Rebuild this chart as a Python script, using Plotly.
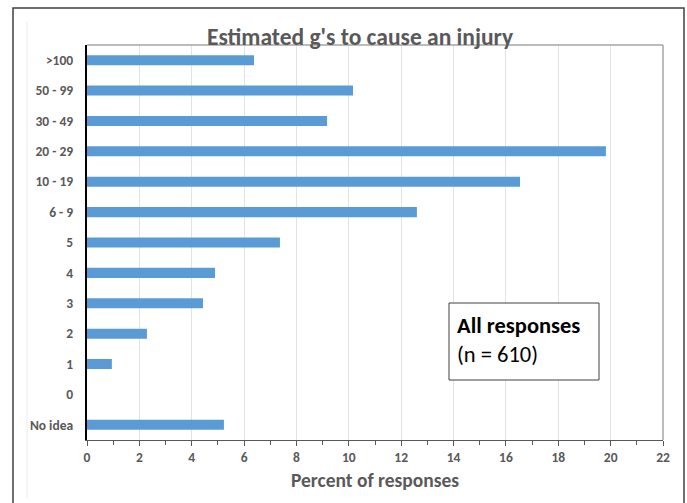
import plotly.graph_objects as go

categories = [">100", "50 - 99", "30 - 49", "20 - 29", "10 - 19", "6 - 9", "5", "4", "3", "2", "1", "0", "No idea"]
values = [6.38, 10.16, 9.17, 19.82, 16.54, 12.6, 7.37, 4.89, 4.43, 2.29, 0.95, 0.0, 5.23]
x_ticks = list(range(0, 23, 2))

FONT = "Carlito, Liberation Sans Narrow, Liberation Sans, sans-serif"
GREY = "#595959"

fig = go.Figure(go.Bar(
    x=values, y=categories, orientation="h",
    marker=dict(color="#5b9bd5", line=dict(width=0)),
    width=0.33,
))

W, H = 687, 503
L, R, T, B = 87, 24, 45, 63
pw, ph = W - L - R, H - T - B

def px(x):
    return (x - L) / pw

def py(y):
    return (H - B - y) / ph

fig.update_layout(
    width=W, height=H,
    margin=dict(l=L, r=R, t=T, b=B),
    paper_bgcolor="white", plot_bgcolor="white",
    showlegend=False,
    font=dict(family=FONT, color=GREY),
    xaxis=dict(
        range=[0, 22], tickvals=x_ticks, ticktext=[str(v) for v in x_ticks],
        showgrid=True, gridcolor="#e3e3e3", gridwidth=1,
        showline=True, linecolor="#595959", linewidth=1,
        ticks="outside", ticklen=5, tickcolor="#595959",
        minor=dict(dtick=1, ticks="outside", ticklen=4, tickcolor="#595959", showgrid=False),
        tickfont=dict(family=FONT, size=13.5, color=GREY, weight="bold"),
        title=dict(text="<b>Percent of responses</b>", font=dict(family=FONT, size=19.5, color=GREY), standoff=8),
        zeroline=False, fixedrange=True,
    ),
    yaxis=dict(
        autorange="reversed", type="category",
        showline=True, linecolor="black", linewidth=2,
        ticks="", showgrid=False,
        tickfont=dict(family=FONT, size=13.5, color=GREY, weight="bold"),
        ticksuffix="   ",
    ),
    shapes=[
        dict(type="line", xref="paper", yref="paper", x0=0, x1=1, y0=1, y1=1,
             line=dict(color="#a6a6a6", width=1.5)),
        dict(type="line", xref="paper", yref="paper", x0=1, x1=1, y0=0, y1=1,
             line=dict(color="#a6a6a6", width=1.5)),
        dict(type="rect", xref="paper", yref="paper", x0=px(13), x1=px(684), y0=py(8), y1=py(520),
             line=dict(color="#404040", width=1.5)),
        dict(type="line", xref="paper", yref="paper", x0=px(27), x1=px(27), y0=py(22), y1=py(498),
             line=dict(color="#ececec", width=1)),
        dict(type="rect", xref="paper", yref="paper", x0=px(449), x1=px(599), y0=py(303), y1=py(380),
             line=dict(color="#404040", width=1), fillcolor="white"),
    ],
    annotations=[
        dict(text="<b>Estimated g's to cause an injury</b>", xref="paper", yref="paper",
             x=px(360), y=py(37), xanchor="center", yanchor="middle", showarrow=False,
             font=dict(family=FONT, size=23.5, color=GREY)),
        dict(text="<b>All responses</b><br>(n = 610)", xref="paper", yref="paper",
             x=px(455), y=py(340), xanchor="left", yanchor="middle", align="left", showarrow=False,
             font=dict(family=FONT, size=22.5, color="black")),
    ],
)

fig.write_html("out.html")
